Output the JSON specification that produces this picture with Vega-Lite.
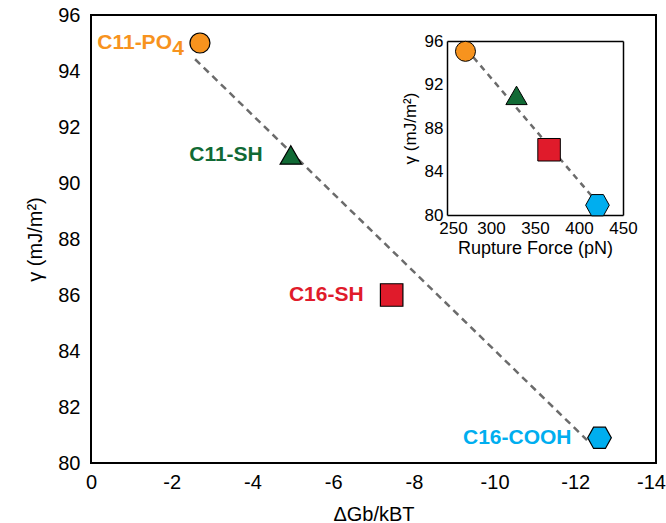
{
  "$schema": "https://vega.github.io/schema/vega-lite/v6.json",
  "width": 565,
  "height": 448,
  "autosize": {"type": "none"},
  "padding": {"left": 91, "top": 15, "right": 10, "bottom": 60},
  "background": "white",
  "config": {
    "font": "Liberation Sans",
    "view": {"stroke": "black", "strokeWidth": 2},
    "axis": {"grid": false, "domainColor": "black", "tickColor": "black", "labelColor": "black", "titleColor": "black", "titleFontWeight": "normal", "labelFont": "Liberation Sans", "titleFont": "Liberation Sans"}
  },
  "data": {"values": [
    {"name": "C11-PO4", "lab": "C11-PO", "dg": -2.7, "gamma": 95.0, "rf": 271, "gi": 95.05},
    {"name": "C11-SH", "lab": "C11-SH", "dg": -4.95, "gamma": 91.0, "rf": 329, "gi": 91.0},
    {"name": "C16-SH", "lab": "C16-SH", "dg": -7.45, "gamma": 86.0, "rf": 366, "gi": 86.0},
    {"name": "C16-COOH", "lab": "C16-COOH", "dg": -12.6, "gamma": 80.9, "rf": 421, "gi": 80.9}
  ]},
  "resolve": {"scale": {"x": "independent", "y": "independent"}, "axis": {"x": "independent", "y": "independent"}},
  "layer": [
    {
      "encoding": {
        "x": {"field": "dg", "type": "quantitative", "scale": {"domain": [0, -14], "nice": false, "zero": false},
          "axis": {"orient": "bottom", "values": [0, -2, -4, -6, -8, -10, -12, -14], "labelExpr": "datum.value == 0 ? '0' : '-' + abs(datum.value)", "labelOffset": {"condition": {"test": "datum.value == -14", "value": -5}, "value": 0}, "domain": false, "ticks": false, "tickSize": 0, "labelPadding": 9, "labelFontSize": 20, "labelFlush": false, "title": "ΔGb/kBT", "titleFontSize": 20, "titlePadding": 12}},
        "y": {"field": "gamma", "type": "quantitative", "scale": {"domain": [80, 96], "nice": false, "zero": false},
          "axis": {"orient": "left", "values": [80, 82, 84, 86, 88, 90, 92, 94, 96], "domain": false, "ticks": false, "tickSize": 0, "labelPadding": 11, "labelFontSize": 20, "title": "γ (mJ/m²)", "titleFontSize": 20, "titlePadding": 12}}
      },
      "layer": [
        {"data": {"values": [{"dg": -2}, {"dg": -4}, {"dg": -6}, {"dg": -8}, {"dg": -10}, {"dg": -12}]},
         "mark": {"type": "rule", "color": "black", "strokeWidth": 2},
         "encoding": {"y": {"datum": 80}, "y2": {"datum": 80.36}}},
        {"data": {"values": [{"dg": -2}, {"dg": -4}, {"dg": -6}, {"dg": -8}, {"dg": -10}, {"dg": -12}]},
         "mark": {"type": "rule", "color": "black", "strokeWidth": 2},
         "encoding": {"y": {"datum": 96}, "y2": {"datum": 95.64}}},
        {"data": {"values": [{"gamma": 82}, {"gamma": 84}, {"gamma": 86}, {"gamma": 88}, {"gamma": 90}, {"gamma": 92}, {"gamma": 94}]},
         "mark": {"type": "rule", "color": "black", "strokeWidth": 2},
         "encoding": {"x": {"datum": 0}, "x2": {"datum": -0.25}}},
        {"data": {"values": [{"gamma": 82}, {"gamma": 84}, {"gamma": 86}, {"gamma": 88}, {"gamma": 90}, {"gamma": 92}, {"gamma": 94}]},
         "mark": {"type": "rule", "color": "black", "strokeWidth": 2},
         "encoding": {"x": {"datum": -14}, "x2": {"datum": -13.75}}},
        {"data": {"values": [{"dg": -2.58, "gamma": 94.42}, {"dg": -12.29, "gamma": 80.82}]},
         "mark": {"type": "line", "strokeDash": [7, 5], "color": "#6b6b6b", "strokeWidth": 2.5},
         "encoding": {}},
        {"mark": {"type": "point", "filled": true, "stroke": "black", "strokeWidth": 1.2, "opacity": 1},
         "encoding": {
           "shape": {"field": "name", "type": "nominal", "scale": {"domain": ["C11-PO4", "C11-SH", "C16-SH", "C16-COOH"], "range": ["circle", "triangle-up", "square", "M-1,0L-0.5,-0.9L0.5,-0.9L1,0L0.5,0.9L-0.5,0.9Z"]}, "legend": null},
           "size": {"field": "name", "type": "ordinal", "scale": {"domain": ["C11-PO4", "C11-SH", "C16-SH", "C16-COOH"], "range": [400, 560, 484, 480]}, "legend": null},
           "fill": {"field": "name", "type": "nominal", "scale": {"domain": ["C11-PO4", "C11-SH", "C16-SH", "C16-COOH"], "range": ["#F7931E", "#116A35", "#E01B2B", "#00AEEF"]}, "legend": null}
         }},
        {"mark": {"type": "text", "align": "right", "baseline": "middle", "dx": -28, "fontSize": 21, "fontWeight": "bold"},
         "encoding": {
           "text": {"field": "lab"},
           "color": {"field": "name", "type": "nominal", "scale": {"domain": ["C11-PO4", "C11-SH", "C16-SH", "C16-COOH"], "range": ["#F7931E", "#116A35", "#E01B2B", "#00AEEF"]}, "legend": null}
         }},
        {"transform": [{"filter": "datum.name === 'C11-PO4'"}],
         "mark": {"type": "text", "align": "right", "baseline": "middle", "dx": -16, "dy": 6, "fontSize": 21, "fontWeight": "bold", "color": "#F7931E"},
         "encoding": {"text": {"value": "4"}}}
      ]
    },
    {
      "encoding": {
        "x": {"field": "rf", "type": "quantitative", "scale": {"domain": [250, 450], "range": [356, 532], "nice": false, "zero": false},
          "axis": {"orient": "bottom", "offset": -248, "values": [250, 300, 350, 400, 450], "domainWidth": 1.5, "ticks": false, "tickSize": 0, "labelPadding": 5, "labelFontSize": 17, "labelFlush": false, "labelOffset": {"condition": {"test": "datum.value == 250", "value": 6}, "value": 0}, "title": "Rupture Force (pN)", "titleFontSize": 18, "titlePadding": 3}},
        "y": {"field": "gi", "type": "quantitative", "scale": {"domain": [80, 96], "range": [200, 26], "nice": false, "zero": false},
          "axis": {"orient": "left", "offset": -356, "values": [80, 84, 88, 92, 96], "domainWidth": 1.5, "ticks": false, "tickSize": 0, "labelPadding": 4, "labelFontSize": 17, "title": "γ (mJ/m²)", "titleFontSize": 17, "titlePadding": 5}}
      },
      "layer": [
        {"data": {"values": [{"rf": 300}, {"rf": 350}, {"rf": 400}]},
         "mark": {"type": "point", "shape": "M0,0L0,-2", "size": 25, "filled": false, "stroke": "black", "strokeWidth": 1.5, "opacity": 1},
         "encoding": {"y": {"datum": 80}}},
        {"data": {"values": [{"rf": 300}, {"rf": 350}, {"rf": 400}]},
         "mark": {"type": "point", "shape": "M0,0L0,2", "size": 25, "filled": false, "stroke": "black", "strokeWidth": 1.5, "opacity": 1},
         "encoding": {"y": {"datum": 96}}},
        {"data": {"values": [{"gi": 84}, {"gi": 88}, {"gi": 92}]},
         "mark": {"type": "point", "shape": "M0,0L2,0", "size": 25, "filled": false, "stroke": "black", "strokeWidth": 1.5, "opacity": 1},
         "encoding": {"x": {"datum": 250}}},
        {"data": {"values": [{"gi": 84}, {"gi": 88}, {"gi": 92}]},
         "mark": {"type": "point", "shape": "M0,0L-2,0", "size": 25, "filled": false, "stroke": "black", "strokeWidth": 1.5, "opacity": 1},
         "encoding": {"x": {"datum": 450}}},
        {"data": {"values": [{"rf": 280, "gi": 94.5}, {"rf": 416, "gi": 81.6}]},
         "mark": {"type": "line", "strokeDash": [6, 5], "color": "#6b6b6b", "strokeWidth": 2.5},
         "encoding": {}},
        {"mark": {"type": "point", "filled": true, "stroke": "black", "strokeWidth": 1, "opacity": 1},
         "encoding": {
           "shape": {"field": "name", "type": "nominal", "scale": {"domain": ["C11-PO4", "C11-SH", "C16-SH", "C16-COOH"], "range": ["circle", "triangle-up", "square", "M-1,0L-0.5,-0.9L0.5,-0.9L1,0L0.5,0.9L-0.5,0.9Z"]}, "legend": null},
           "size": {"field": "name", "type": "ordinal", "scale": {"domain": ["C11-PO4", "C11-SH", "C16-SH", "C16-COOH"], "range": [160, 272, 180, 240]}, "legend": null},
           "fill": {"field": "name", "type": "nominal", "scale": {"domain": ["C11-PO4", "C11-SH", "C16-SH", "C16-COOH"], "range": ["#F7931E", "#116A35", "#E01B2B", "#00AEEF"]}, "legend": null}
         }}
      ]
    },
    {
      "mark": {"type": "point", "opacity": 0},
      "encoding": {
        "x": {"field": "rf", "type": "quantitative", "scale": {"domain": [250, 450], "range": [356, 532], "nice": false, "zero": false},
          "axis": {"orient": "bottom", "offset": -422, "values": [250, 300, 350, 400, 450], "domainWidth": 1.5, "labels": false, "ticks": false, "title": null}},
        "y": {"field": "gi", "type": "quantitative", "scale": {"domain": [80, 96], "range": [200, 26], "nice": false, "zero": false},
          "axis": {"orient": "left", "offset": -532, "values": [80, 84, 88, 92, 96], "domainWidth": 1.5, "labels": false, "ticks": false, "title": null}}
      }
    }
  ]
}
